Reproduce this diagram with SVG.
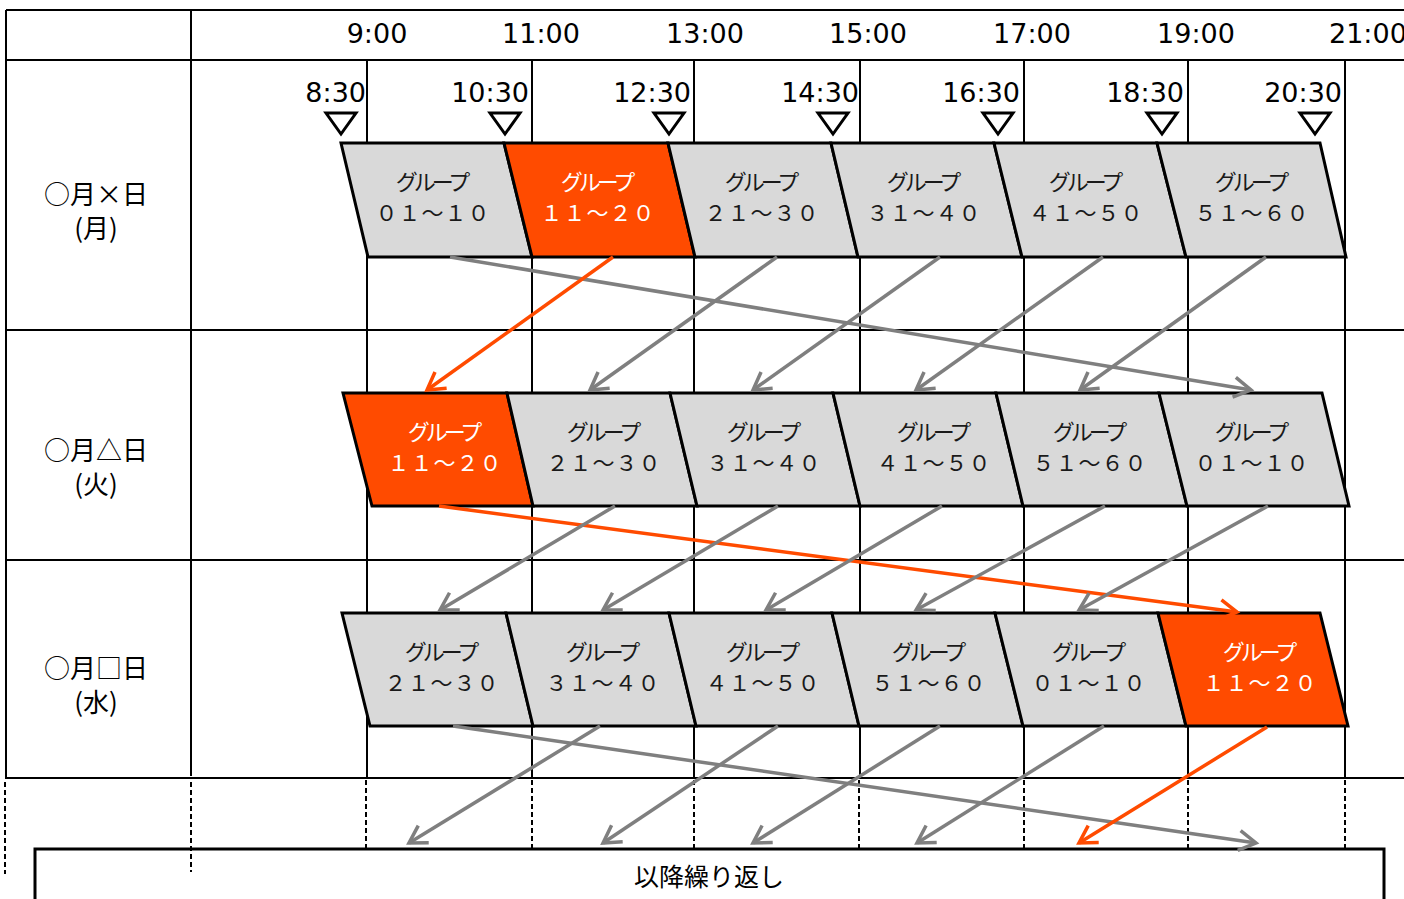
<svg xmlns="http://www.w3.org/2000/svg" width="1404" height="899" viewBox="0 0 1404 899">
<style>
.grid{stroke:#000;stroke-width:2;fill:none}
.dash{stroke:#000;stroke-width:2;stroke-dasharray:5 3;fill:none}
.cell{stroke:#000;stroke-width:3;stroke-linejoin:miter}
.g{fill:#D9D9D9}
.o{fill:#FF4B00}
.tri{fill:#fff;stroke:#000;stroke-width:3;stroke-linejoin:miter}
.time{font-family:"DejaVu Sans",Verdana,sans-serif;font-size:27px;fill:#000}
.half{font-family:"DejaVu Sans",Verdana,sans-serif;font-size:27px;fill:#000;text-anchor:end}
.day{font-family:"Noto Sans CJK JP",sans-serif;font-size:26px;fill:#000;text-anchor:middle}
.lbl{font-family:"Noto Sans CJK JP",sans-serif;font-size:22px;text-anchor:middle}
.k{letter-spacing:-4px}
.n{letter-spacing:1px}
.dk{fill:#1a1a1a}
.wt{fill:#fff}
.ga{stroke:#7F7F7F;stroke-width:3.5;fill:none;marker-end:url(#ag)}
.oa{stroke:#FF4B00;stroke-width:3.5;fill:none;marker-end:url(#ao)}
</style>
<defs>
<marker id="ag" markerUnits="userSpaceOnUse" markerWidth="40" markerHeight="40" refX="0" refY="0" orient="auto" overflow="visible"><path d="M-17,-10 L0,0 L-17,10" fill="none" stroke="#7F7F7F" stroke-width="3.5"/></marker>
<marker id="ao" markerUnits="userSpaceOnUse" markerWidth="40" markerHeight="40" refX="0" refY="0" orient="auto" overflow="visible"><path d="M-17,-10 L0,0 L-17,10" fill="none" stroke="#FF4B00" stroke-width="3.5"/></marker>
</defs>
<rect width="1404" height="899" fill="#fff"/>
<g id="table">
<path class="grid" d="M6,10 H1404 M6,60 H1404 M6,330 H1404 M6,560 H1404 M5,778 H1404 M6,10 V778 M191,10 V776"/>
<path class="grid" d="M367,60 V778 M532,60 V778 M694,60 V778 M860,60 V778 M1024,60 V778 M1188,60 V778 M1345,60 V778"/>
<path class="dash" d="M5,782 V874 M191,782 V872 M366,780 V849 M532,780 V849 M694,780 V849 M859,780 V849 M1024,780 V849 M1188,780 V849 M1345,780 V849"/>
</g>
<g id="hours">
<text class="time" x="377" y="43" text-anchor="middle">9:00</text>
<text class="time" x="541" y="43" text-anchor="middle">11:00</text>
<text class="time" x="705" y="43" text-anchor="middle">13:00</text>
<text class="time" x="868" y="43" text-anchor="middle">15:00</text>
<text class="time" x="1032" y="43" text-anchor="middle">17:00</text>
<text class="time" x="1196" y="43" text-anchor="middle">19:00</text>
<text class="time" x="1329" y="43">21:00</text>
</g>
<g id="halfhours">
<text class="half" x="366" y="102">8:30</text>
<text class="half" x="529" y="102">10:30</text>
<text class="half" x="691" y="102">12:30</text>
<text class="half" x="859" y="102">14:30</text>
<text class="half" x="1020" y="102">16:30</text>
<text class="half" x="1184" y="102">18:30</text>
<text class="half" x="1342" y="102">20:30</text>
<polygon class="tri" points="326,113 356,113 341,134"/>
<polygon class="tri" points="490,113 520,113 505,134"/>
<polygon class="tri" points="654,113 684,113 669,134"/>
<polygon class="tri" points="818,113 848,113 833,134"/>
<polygon class="tri" points="983,113 1013,113 998,134"/>
<polygon class="tri" points="1147,113 1177,113 1162,134"/>
<polygon class="tri" points="1300,113 1330,113 1315,134"/>
</g>
<g id="days">
<text class="day" x="96" y="204">○月×日<tspan x="96" dy="34">(月)</tspan></text>
<text class="day" x="96" y="460">○月△日<tspan x="96" dy="34">(火)</tspan></text>
<text class="day" x="96" y="678">○月□日<tspan x="96" dy="34">(水)</tspan></text>
</g>
<g id="row1">
<g id="r1c1"><polygon class="cell g" points="341,143 504,143 532,257 368,257"/><text class="lbl dk" y="190"><tspan class="k" x="431">グループ</tspan><tspan class="n" x="433" dy="31">０１～１０</tspan></text></g>
<g id="r1c2"><polygon class="cell o" points="504,143 668,143 695,257 532,257"/><text class="lbl wt" y="190"><tspan class="k" x="596">グループ</tspan><tspan class="n" x="598" dy="31">１１～２０</tspan></text></g>
<g id="r1c3"><polygon class="cell g" points="668,143 831,143 858,257 695,257"/><text class="lbl dk" y="190"><tspan class="k" x="760">グループ</tspan><tspan class="n" x="762" dy="31">２１～３０</tspan></text></g>
<g id="r1c4"><polygon class="cell g" points="831,143 994,143 1022,257 858,257"/><text class="lbl dk" y="190"><tspan class="k" x="922">グループ</tspan><tspan class="n" x="924" dy="31">３１～４０</tspan></text></g>
<g id="r1c5"><polygon class="cell g" points="994,143 1157,143 1186,257 1022,257"/><text class="lbl dk" y="190"><tspan class="k" x="1084">グループ</tspan><tspan class="n" x="1086" dy="31">４１～５０</tspan></text></g>
<g id="r1c6"><polygon class="cell g" points="1157,143 1320,143 1346,257 1186,257"/><text class="lbl dk" y="190"><tspan class="k" x="1250">グループ</tspan><tspan class="n" x="1252" dy="31">５１～６０</tspan></text></g>
</g>
<g id="row2">
<g id="r2c1"><polygon class="cell o" points="343,393 507,393 533,506 372,506"/><text class="lbl wt" y="440"><tspan class="k" x="443">グループ</tspan><tspan class="n" x="445" dy="31">１１～２０</tspan></text></g>
<g id="r2c2"><polygon class="cell g" points="507,393 670,393 697,506 533,506"/><text class="lbl dk" y="440"><tspan class="k" x="602">グループ</tspan><tspan class="n" x="604" dy="31">２１～３０</tspan></text></g>
<g id="r2c3"><polygon class="cell g" points="670,393 833,393 860,506 697,506"/><text class="lbl dk" y="440"><tspan class="k" x="762">グループ</tspan><tspan class="n" x="764" dy="31">３１～４０</tspan></text></g>
<g id="r2c4"><polygon class="cell g" points="833,393 996,393 1023,506 860,506"/><text class="lbl dk" y="440"><tspan class="k" x="932">グループ</tspan><tspan class="n" x="934" dy="31">４１～５０</tspan></text></g>
<g id="r2c5"><polygon class="cell g" points="996,393 1159,393 1187,506 1023,506"/><text class="lbl dk" y="440"><tspan class="k" x="1088">グループ</tspan><tspan class="n" x="1090" dy="31">５１～６０</tspan></text></g>
<g id="r2c6"><polygon class="cell g" points="1159,393 1322,393 1349,506 1187,506"/><text class="lbl dk" y="440"><tspan class="k" x="1250">グループ</tspan><tspan class="n" x="1252" dy="31">０１～１０</tspan></text></g>
</g>
<g id="row3">
<g id="r3c1"><polygon class="cell g" points="342,613 506,613 533,726 370,726"/><text class="lbl dk" y="660"><tspan class="k" x="440">グループ</tspan><tspan class="n" x="442" dy="31">２１～３０</tspan></text></g>
<g id="r3c2"><polygon class="cell g" points="506,613 669,613 696,726 533,726"/><text class="lbl dk" y="660"><tspan class="k" x="601">グループ</tspan><tspan class="n" x="603" dy="31">３１～４０</tspan></text></g>
<g id="r3c3"><polygon class="cell g" points="669,613 832,613 859,726 696,726"/><text class="lbl dk" y="660"><tspan class="k" x="761">グループ</tspan><tspan class="n" x="763" dy="31">４１～５０</tspan></text></g>
<g id="r3c4"><polygon class="cell g" points="832,613 995,613 1023,726 859,726"/><text class="lbl dk" y="660"><tspan class="k" x="927">グループ</tspan><tspan class="n" x="929" dy="31">５１～６０</tspan></text></g>
<g id="r3c5"><polygon class="cell g" points="995,613 1158,613 1186,726 1023,726"/><text class="lbl dk" y="660"><tspan class="k" x="1087">グループ</tspan><tspan class="n" x="1089" dy="31">０１～１０</tspan></text></g>
<g id="r3c6"><polygon class="cell o" points="1158,613 1320,613 1348,726 1186,726"/><text class="lbl wt" y="660"><tspan class="k" x="1258">グループ</tspan><tspan class="n" x="1260" dy="31">１１～２０</tspan></text></g>
</g>
<g id="repeat">
<path d="M35,899 V849 H1384 V899" fill="none" stroke="#000" stroke-width="3"/>
<text class="day" x="709" y="886" style="font-size:25px">以降繰り返し</text>
</g>
<g id="connectors">
<line class="ga" x1="450" y1="257" x2="1251" y2="390"/>
<line class="ga" x1="777" y1="257" x2="590" y2="390"/>
<line class="ga" x1="940" y1="257" x2="753" y2="390"/>
<line class="ga" x1="1103" y1="257" x2="916" y2="390"/>
<line class="ga" x1="1266" y1="257" x2="1080" y2="390"/>
<line class="oa" x1="613" y1="257" x2="427" y2="390"/>
<line class="oa" x1="439" y1="506" x2="1237" y2="612"/>
<line class="ga" x1="615" y1="506" x2="440" y2="610"/>
<line class="ga" x1="778" y1="506" x2="603" y2="610"/>
<line class="ga" x1="942" y1="506" x2="766" y2="610"/>
<line class="ga" x1="1105" y1="506" x2="916" y2="610"/>
<line class="ga" x1="1268" y1="506" x2="1079" y2="610"/>
<line class="ga" x1="453" y1="726" x2="1256" y2="843"/>
<line class="ga" x1="600" y1="726" x2="409" y2="843"/>
<line class="ga" x1="778" y1="726" x2="603" y2="843"/>
<line class="ga" x1="940" y1="726" x2="753" y2="843"/>
<line class="ga" x1="1104" y1="726" x2="917" y2="843"/>
<line class="oa" x1="1267" y1="727" x2="1079" y2="843"/>
</g>
</svg>
